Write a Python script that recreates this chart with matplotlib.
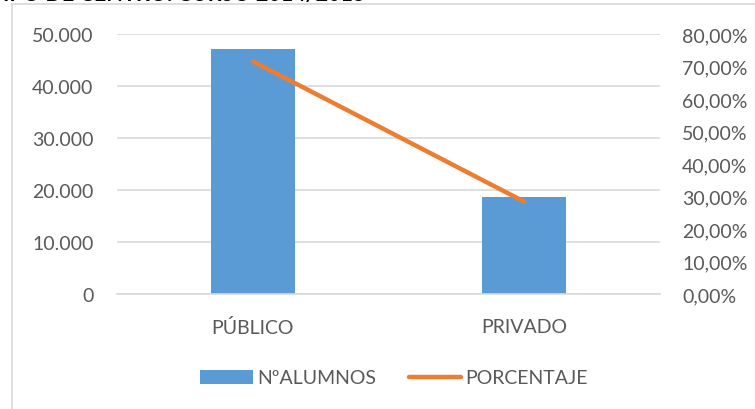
import matplotlib.pyplot as plt
from matplotlib.lines import Line2D
from matplotlib.patches import Patch
import numpy as np

categorias = ["PÚBLICO", "PRIVADO"]
alumnos = [47200, 18700]
porcentaje = [0.716, 0.284]
ticks_izq = [0, 10000, 20000, 30000, 40000, 50000]
ticks_der = [0, 0.1, 0.2, 0.3, 0.4, 0.5, 0.6, 0.7, 0.8]

azul = "#5b9bd5"
naranja = "#ed7d31"
gris_texto = "#595959"
gris_linea = "#d9d9d9"

plt.rcParams['font.family'] = ['Lato', 'DejaVu Sans']

fig = plt.figure(figsize=(7.55, 4.1), dpi=100)
ax = fig.add_axes([117/755, 1 - 295/410, (660-117)/755, (295-35)/410])
ax2 = ax.twinx()

x = np.arange(len(categorias))
ax.bar(x, alumnos, width=0.31, color=azul, zorder=2)
ax.set_xlim(-0.5, 1.5)
ax.set_ylim(0, 50000)
ax.set_yticks(ticks_izq)
ax.set_yticklabels([f"{t:,}".replace(",", ".") for t in ticks_izq])
ax.set_xticks(x)
ax.set_xticklabels(categorias)
ax.yaxis.grid(True, color=gris_linea, linewidth=1.2, zorder=0)
ax.set_axisbelow(True)

ax2.plot(x, porcentaje, color=naranja, linewidth=3.2, solid_capstyle='round', zorder=3)
ax2.set_ylim(0, 0.8)
ax2.set_yticks(ticks_der)
ax2.set_yticklabels([f"{t*100:.2f}%".replace(".", ",") for t in ticks_der])

fs = 14
for a in (ax, ax2):
    for s in a.spines.values():
        s.set_visible(False)
    a.tick_params(length=0, labelsize=fs, labelcolor=gris_texto)
ax.spines['bottom'].set_visible(True)
ax.spines['bottom'].set_color(gris_linea)
ax.spines['bottom'].set_linewidth(1.2)
ax.tick_params(axis='y', pad=17)
ax.tick_params(axis='x', pad=17)
ax2.tick_params(axis='y', pad=16)

# marco del gráfico
fig.add_artist(Line2D([12/755, 12/755], [0, 1 - 5/410], color=gris_linea, linewidth=1.2))
fig.add_artist(Line2D([12/755, 1], [1 - 5/410, 1 - 5/410], color=gris_linea, linewidth=1.2))

# título (cortado en la imagen original)
fig.text(365/755, 1 - 1.5/410, "TIPO DE CENTRO. CURSO 2014/2015", ha='right', va='baseline',
         fontsize=15.5, fontweight='bold', color='black')

handles = [Patch(facecolor=azul, edgecolor='none'),
           Line2D([0], [0], color=naranja, linewidth=3.2, solid_capstyle='round')]
fig.legend(handles, ["NºALUMNOS", "PORCENTAJE"], loc='center', bbox_to_anchor=(0.522, 1 - 379/410),
           ncol=2, frameon=False, fontsize=fs, labelcolor=gris_texto, handlelength=2.7,
           handletextpad=0.2, columnspacing=1.7, handleheight=0.7)

fig.savefig("out.png", dpi=100)
